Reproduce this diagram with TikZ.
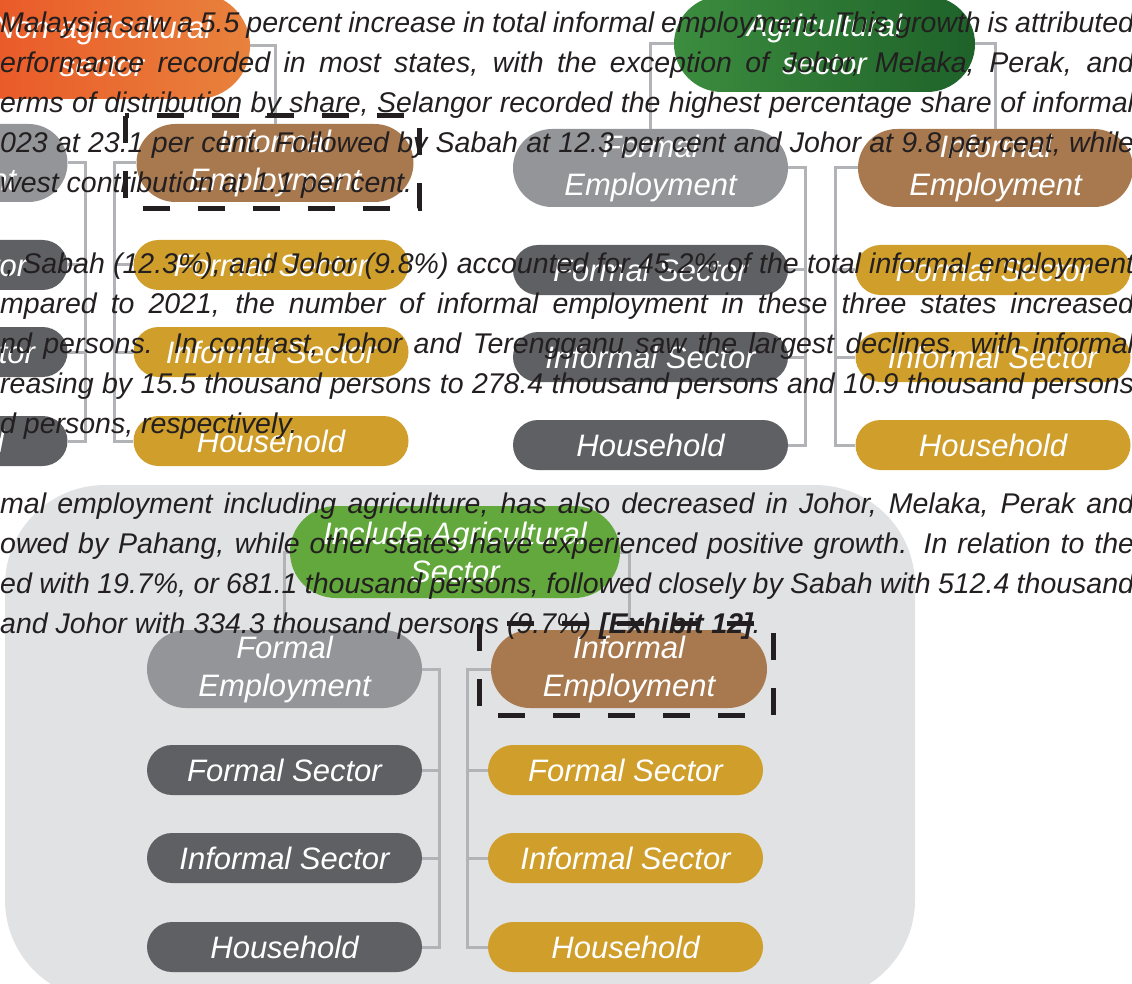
\documentclass[tikz,border=0pt]{standalone}
\usepackage{fontspec}
\setmainfont{Liberation Sans}
\usetikzlibrary{calc}

\definecolor{lgray}{HTML}{939598}
\definecolor{dgray}{HTML}{5F6064}
\definecolor{brownE}{HTML}{A8794E}
\definecolor{gold}{HTML}{CF9E2B}
\definecolor{leaf}{HTML}{63A83C}
\definecolor{bggray}{HTML}{E1E2E4}
\definecolor{linegray}{HTML}{B1B3B6}
\definecolor{ink}{HTML}{231F20}
\definecolor{orangeL}{HTML}{EB5426}
\definecolor{orangeR}{HTML}{E8823C}
\definecolor{greenL}{HTML}{3C8D3F}
\definecolor{greenR}{HTML}{1E6229}

\newcommand{\pillfont}{\fontsize{31}{38}\selectfont\itshape}
\newcommand{\parafont}{\fontsize{28.5}{40}\selectfont\itshape}

\begin{document}
\begin{tikzpicture}[x=1pt, y=-1pt,
        pill/.style={rectangle, rounded corners=25pt, minimum width=275pt, minimum height=50pt,
            inner sep=0pt, text=white, font=\pillfont, align=center},
        empl/.style={pill, rounded corners=39pt, minimum height=78pt},
        conn/.style={draw=linegray, line width=3pt},
        hlbox/.style={draw=ink, line width=5pt, dash pattern=on 27pt off 28pt},
        para/.style={anchor=base west, inner sep=0pt, text=ink, font=\parafont}]
        \clip (0,0) rectangle (1132,984);
        % panel behind the lower tree
            \fill[bggray, rounded corners=100pt] (5,485) rectangle (915,1000);

        % non-agricultural tree
            \node[pill, left color=orangeL, right color=orangeR, minimum width=296pt,
                minimum height=106pt, rounded corners=53pt] (nonag) at (102,46) {Non-agricultural\\sector};
            \node[empl, fill=lgray] (feL) at (-70,163) {Formal\\Employment};
            \node[pill, fill=dgray] (fsL) at (-70,265) {Formal Sector};
            \node[pill, fill=dgray] (isL) at (-70,352) {Informal Sector};
            \node[pill, fill=dgray] (hhL) at (-70,441) {Household};
            \node[empl, fill=brownE, minimum width=277pt] (ieL) at (275,163) {Informal\\Employment};
            \node[pill, fill=gold] (fsyL) at (271,265) {Formal Sector};
            \node[pill, fill=gold] (isyL) at (271,352) {Informal Sector};
            \node[pill, fill=gold] (hhyL) at (271,441) {Household};

        % agricultural tree
            \node[pill, left color=greenL, right color=greenR, minimum width=301pt,
                minimum height=96pt, rounded corners=48pt] (agri) at (824.5,44) {Agricultural\\sector};
            \node[empl, fill=lgray] (feA) at (650.5,168) {Formal\\Employment};
            \node[pill, fill=dgray] (fsA) at (650.5,270) {Formal Sector};
            \node[pill, fill=dgray] (isA) at (650.5,357) {Informal Sector};
            \node[pill, fill=dgray] (hhA) at (650.5,445) {Household};
            \node[empl, fill=brownE] (ieA) at (995.5,168) {Informal\\Employment};
            \node[pill, fill=gold] (fsyA) at (993,270) {Formal Sector};
            \node[pill, fill=gold] (isyA) at (993,357) {Informal Sector};
            \node[pill, fill=gold] (hhyA) at (993,445) {Household};

        % tree including agriculture
            \node[pill, fill=leaf, minimum width=330pt, minimum height=92pt,
                rounded corners=46pt] (incl) at (455,552) {Include Agricultural\\Sector};
            \node[empl, fill=lgray] (feB) at (284.5,669) {Formal\\Employment};
            \node[pill, fill=dgray] (fsB) at (284.5,770) {Formal Sector};
            \node[pill, fill=dgray] (isB) at (284.5,858) {Informal Sector};
            \node[pill, fill=dgray] (hhB) at (284.5,947) {Household};
            \node[empl, fill=brownE, minimum width=276pt] (ieB) at (629,669) {Informal\\Employment};
            \node[pill, fill=gold] (fsyB) at (625.5,770) {Formal Sector};
            \node[pill, fill=gold] (isyB) at (625.5,858) {Informal Sector};
            \node[pill, fill=gold] (hhyB) at (625.5,947) {Household};

        % lines
            \draw[conn] (nonag.east) -| (ieL.north);
            \draw[conn] (agri.west) -| (feA.north);
            \draw[conn] (agri.east) -| (ieA.north);
            \draw[conn] (incl.west) -| (feB.north);
            \draw[conn] (incl.east) -| (ieB.north);

            \draw[conn] (feL.east) -- ++(17.5,0) |- (hhL.east);
            \draw[conn] (fsL.east) -- ++(17.5,0);
            \draw[conn] (isL.east) -- ++(17.5,0);
            \draw[conn] (ieL.west) -- ++(-21.5,0) |- (hhyL.west);
            \draw[conn] (fsyL.west) -- ++(-18.5,0);
            \draw[conn] (isyL.west) -- ++(-18.5,0);

            \draw[conn] (feA.east) -- ++(17,0) |- (hhA.east);
            \draw[conn] (fsA.east) -- ++(17,0);
            \draw[conn] (isA.east) -- ++(17,0);
            \draw[conn] (ieA.west) -- ++(-22,0) |- (hhyA.west);
            \draw[conn] (fsyA.west) -- ++(-19.5,0);
            \draw[conn] (isyA.west) -- ++(-19.5,0);

            \draw[conn] (feB.east) -- ++(17,0) |- (hhB.east);
            \draw[conn] (fsB.east) -- ++(17,0);
            \draw[conn] (isB.east) -- ++(17,0);
            \draw[conn] (ieB.west) -- ++(-23,0) |- (hhyB.west);
            \draw[conn] (fsyB.west) -- ++(-20,0);
            \draw[conn] (isyB.west) -- ++(-20,0);

        % dashed boxes
            \draw[hlbox] ([shift={(-11,-8)}]ieL.north west) rectangle ([shift={(6,6)}]ieL.south east);
            \draw[hlbox] ([shift={(-11,-6)}]ieB.north west) rectangle ([shift={(6,7)}]ieB.south east);

        % text laid over the picture
            \node[para] (p1) at (0,33) {\makebox[1134pt][s]{Malaysia saw a 5.5 percent increase in total informal employment. This growth is attributed}};
            \node[para] (p2) at (0,73) {\makebox[1134pt][s]{erformance recorded in most states, with the exception of Johor, Melaka, Perak, and}};
            \node[para] (p3) at (0,113) {\makebox[1134pt][s]{erms of distribution by share, Selangor recorded the highest percentage share of informal}};
            \node[para] (p4) at (0,153) {\makebox[1134pt][s]{023 at 23.1 per cent. Followed by Sabah at 12.3 per cent and Johor at 9.8 per cent, while}};
            \node[para] (p5) at (0,193) {west contribution at 1.1 per cent.};
            \node[para] (p6) at (6,273) {\makebox[1128pt][s]{, Sabah (12.3\%), and Johor (9.8\%) accounted for 45.2\% of the total informal employment}};
            \node[para] (p7) at (0,313) {\makebox[1134pt][s]{mpared to 2021, the number of informal employment in these three states increased}};
            \node[para] (p8) at (0,353) {\makebox[1134pt][s]{nd persons. In contrast, Johor and Terengganu saw the largest declines, with informal}};
            \node[para] (p9) at (0,393) {\makebox[1134pt][s]{reasing by 15.5 thousand persons to 278.4 thousand persons and 10.9 thousand persons}};
            \node[para] (p10) at (0,433) {d persons, respectively.};
            \node[para] (p11) at (0,513) {\makebox[1134pt][s]{mal employment including agriculture, has also decreased in Johor, Melaka, Perak and}};
            \node[para] (p12) at (0,553) {\makebox[1134pt][s]{owed by Pahang, while other states have experienced positive growth. In relation to the}};
            \node[para] (p13) at (0,593) {\makebox[1134pt][s]{ed with 19.7\%, or 681.1 thousand persons, followed closely by Sabah with 512.4 thousand}};
            \node[para] (p14) at (0,633) {and Johor with 334.3 thousand persons (9.7\%) \textbf{[Exhibit 12]}.};
\end{tikzpicture}
\end{document}
